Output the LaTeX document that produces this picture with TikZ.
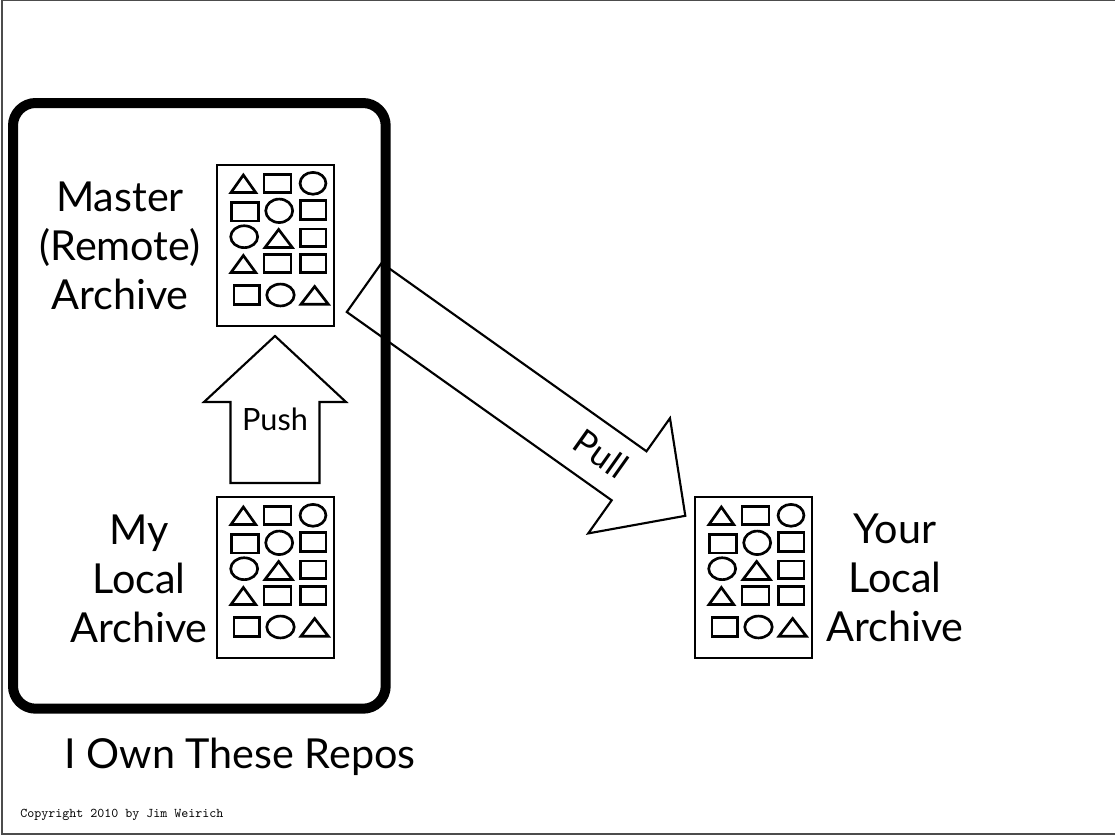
\documentclass[tikz,border=0pt]{standalone}
\usepackage{fontspec}
\setmainfont{Lato}
\usepackage{tikz}
\usetikzlibrary{calc,positioning}
\tikzset{
  frame/.style={draw=black!70, line width=1.1pt},
  ownbox/.style={draw, line width=7.5pt, rounded corners=17pt},
  archbox/.style={draw, fill=white, line width=1.8pt, minimum width=87.75pt, minimum height=120.75pt, inner sep=0pt},
  glyph/.style={line width=2pt},
  blockarrow/.style={draw, fill=white, line width=1.6pt, line join=miter},
  biglabel/.style={font=\fontsize{31}{36.75}\selectfont, align=center, inner sep=0pt},
  arrowlabel/.style={font=\fontsize{23}{27}\selectfont, inner sep=0pt},
  archive/.pic={
    \node[archbox] (-box) at (58.5,80.5) {};
    \foreach \xa/\ya/\xb/\yb in {47/9.8/74/27.5, 14.5/37.5/41.5/56, 83.8/35.8/109/54.2,
        83.8/64/109/81.5, 47/89.8/74/107.5, 83.8/89.8/109/107.5, 17/120.8/42.3/139.2}
      \draw[glyph] (\xa,\ya) rectangle (\xb,\yb);
    \foreach \xa/\ya/\xb/\yb in {14/10/38.7/27.5, 48/64.5/75.3/82.5, 14/90.5/38.7/107.5, 84/121.5/111.3/139.2}
      \draw[glyph] (\xa,\yb) -- (\xb,\yb) -- ({(\xa+\xb)/2},\ya) -- cycle;
    \foreach \cx/\cy/\rx/\ry in {96/18.3/9.7pt/8.2pt, 62.2/45.8/10.1pt/8.8pt, 27.2/71.7/10.1pt/8.2pt, 63.5/130/10.3pt/8.2pt}
      \draw[glyph] (\cx,\cy) ellipse [x radius=\rx, y radius=\ry];
  }
}

\begin{document}
\begin{tikzpicture}[x=0.75pt,y=-0.75pt]
  \useasboundingbox (0,0) rectangle (1115,836);
  \draw[frame] (1115,0.75) -- (2,0.75) -- (2,834) -- (1115,834);
  \draw[blockarrow] (381.6,263.0) -- (646.5,451.3) -- (670.0,418.2) -- (685.3,515.8)
    -- (588.2,533.4) -- (611.7,500.3) -- (346.8,312.0) -- cycle;
  \draw[ownbox] (13,103) rectangle (385.7,708.7);
  \pic (master) at (217,165) {archive};
  \pic (mine) at (217,497) {archive};
  \pic (yours) at (695,497) {archive};
  \draw[blockarrow] (275,336) -- (346,402) -- (319.5,402) -- (319.5,483)
    -- (230.5,483) -- (230.5,402) -- (204,402) -- cycle;
  \node[biglabel] (masterlbl) at (120,246) {Master\\(Remote)\\Archive};
  \node[biglabel] (minelbl) at (139,579) {My\\Local\\Archive};
  \node[biglabel] (yourslbl) at (895,578) {Your\\Local\\Archive};
  \node[arrowlabel] (pushlbl) at (275,419) {Push};
  \node[arrowlabel, font=\fontsize{26}{30}\selectfont, rotate=-35.4] (pulllbl) at (601,454) {Pull};
  \node[font=\fontsize{31}{36}\selectfont, anchor=base, inner sep=0pt] (ownlbl) at (240,768) {I Own These Repos};
  \node[font=\fontsize{10}{12}\selectfont\ttfamily, anchor=base west, inner sep=0pt] (copyright) at (20,817) {Copyright 2010 by Jim Weirich};
\end{tikzpicture}
\end{document}
